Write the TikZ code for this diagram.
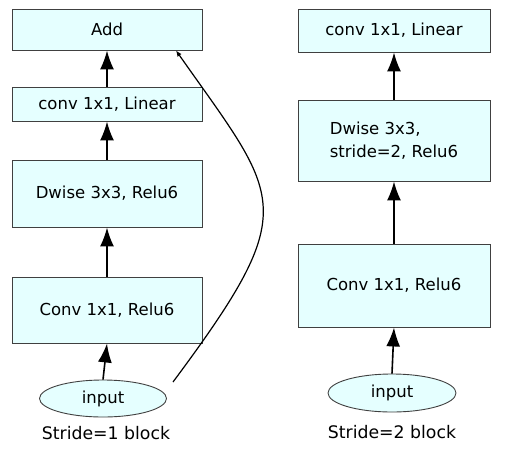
\documentclass[tikz,border=0pt]{standalone}
\usepackage{fontspec}
\setmainfont{DejaVu Sans}
\usetikzlibrary{arrows.meta,shapes.geometric}
\definecolor{boxfill}{RGB}{229,255,255}
\definecolor{boxline}{RGB}{64,64,64}
\begin{document}
\begin{tikzpicture}[x=1pt,y=-1pt,
  blk/.style={draw=boxline,line width=0.9pt,fill=boxfill,rectangle,inner sep=0pt,
    font=\fontsize{16.5}{23}\selectfont},
  inp/.style={draw=boxline,line width=0.9pt,fill=boxfill,ellipse,inner sep=0pt,
    font=\fontsize{16.5}{20}\selectfont},
  lab/.style={font=\fontsize{17.3}{20}\selectfont,inner sep=0pt},
  flow/.style={line width=1.6pt,-{Latex[length=19pt,width=14pt]}},
  skip/.style={line width=1.2pt,-{Latex[length=6pt,width=5pt]}}]
\useasboundingbox (0,0) rectangle (511,461);
% left column
\node[blk,minimum width=190,minimum height=41] (add) at (107,29.5) {Add};
\node[blk,minimum width=190,minimum height=34] (lin1) at (107,104) {conv 1x1, Linear};
\node[blk,minimum width=190,minimum height=67] (dw1) at (107,193.5) {Dwise 3x3, Relu6};
\node[blk,minimum width=190,minimum height=66] (cv1) at (107,310) {Conv 1x1, Relu6};
\node[inp,minimum width=127,minimum height=37] (in1) at (103,398.5) {input};
\node[lab] (l1) at (106,433) {Stride=1 block};
\draw[flow] (in1.north) -- (cv1.south);
\draw[flow] (cv1.north) -- (dw1.south);
\draw[flow] (dw1.north) -- (lin1.south);
\draw[flow] (lin1.north) -- (add.south);
\coordinate (skipstart) at (173,382);
\coordinate (skipend) at ([xshift=69pt]add.south);
\draw[skip] (skipstart) .. controls (303.5,206.5) and (281,200) .. (skipend);
% right column
\node[blk,minimum width=192,minimum height=43] (lin2) at (394,30.5) {conv 1x1, Linear};
\node[blk,minimum width=192,minimum height=81,align=left] (dw2) at (394,140.5) {Dwise 3x3,\\stride=2, Relu6};
\node[blk,minimum width=192,minimum height=83] (cv2) at (394,285.5) {Conv 1x1, Relu6};
\node[inp,minimum width=128,minimum height=38] (in2) at (392,393) {input};
\node[lab] (l2) at (392,432) {Stride=2 block};
\draw[flow] (in2.north) -- (cv2.south);
\draw[flow] (cv2.north) -- (dw2.south);
\draw[flow] (dw2.north) -- (lin2.south);
\end{tikzpicture}
\end{document}
